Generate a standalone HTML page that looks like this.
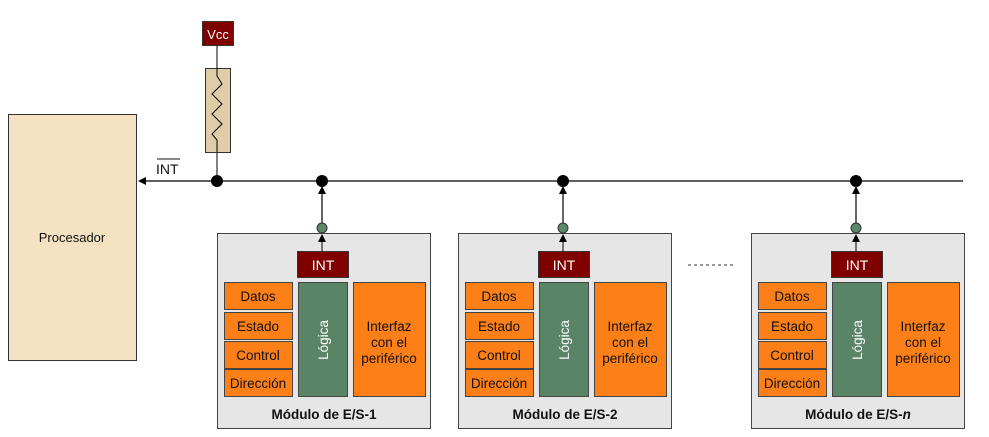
<!DOCTYPE html><html><head><style>body{margin:0;background:#fff}svg{display:block}text{font-family:"Liberation Sans",Arial,sans-serif}</style></head><body>
<svg width="989" height="437" viewBox="0 0 989 437" xmlns="http://www.w3.org/2000/svg">
<defs>
<g id="m">
<rect x="217.5" y="233.5" width="213" height="195" fill="#e6e6e6" stroke="#444"/>
<line x1="322" y1="233" x2="322" y2="192" stroke="#000" stroke-width="1.2"/>
<polygon points="322,186 318,194 326,194" fill="#000"/>
<polygon points="322,234 318,242 326,242" fill="#000"/>
<line x1="322" y1="242" x2="322" y2="251" stroke="#000"/>
<circle cx="322" cy="228" r="5" fill="#5a8a6a" stroke="#333"/>
<rect x="297.5" y="251.5" width="51" height="26" fill="#800000" stroke="#333"/>
<text x="323" y="270" font-size="14" fill="#fff" text-anchor="middle">INT</text>
<g fill="#fd7f17" stroke="#444">
<rect x="224.5" y="282.5" width="68" height="27"/>
<rect x="224.5" y="312.5" width="68" height="27"/>
<rect x="224.5" y="341.5" width="68" height="27"/>
<rect x="224.5" y="369.5" width="68" height="27"/>
<rect x="353.5" y="282.5" width="72" height="114"/>
</g>
<rect x="298.5" y="282.5" width="49" height="114" fill="#5a8466" stroke="#444"/>
<g font-size="13.5" fill="#111" text-anchor="middle">
<text x="258" y="301">Datos</text>
<text x="258" y="331">Estado</text>
<text x="258" y="360">Control</text>
<text x="258" y="388">Dirección</text>
<text x="389" y="331">Interfaz</text>
<text x="389" y="347">con el</text>
<text x="389" y="363">periférico</text>
</g>
<text transform="translate(328,340) rotate(-90)" font-size="13.5" fill="#fff" text-anchor="middle">Lógica</text>
</g>
</defs>
<rect x="8.5" y="114.5" width="128" height="246" fill="#f5e2c2" stroke="#333"/>
<text x="72" y="242" font-size="13" text-anchor="middle" fill="#111">Procesador</text>
<line x1="144" y1="181" x2="963" y2="181" stroke="#000" stroke-width="1.2"/>
<polygon points="138,181 146,177 146,185" fill="#000"/>
<text x="156" y="174" font-size="14" fill="#111">INT</text>
<line x1="157" y1="159" x2="180" y2="159" stroke="#111"/>
<line x1="217" y1="45" x2="217" y2="181" stroke="#000"/>
<rect x="202.5" y="21.5" width="31" height="24" fill="#800000" stroke="#333"/>
<text x="218" y="39" font-size="13" fill="#fff" text-anchor="middle">Vcc</text>
<rect x="205.5" y="68.5" width="25" height="84" fill="#dfcda8" stroke="#333"/>
<polyline points="217,68 217,76 222,84 212,94 222,104 212,114 222,124 212,134 217,140 217,152" fill="none" stroke="#000"/>
<g fill="#000"><circle cx="217" cy="181" r="6"/><circle cx="322" cy="181" r="6"/><circle cx="563" cy="181" r="6"/><circle cx="856" cy="181" r="6"/></g>
<use href="#m"/>
<use href="#m" x="241"/>
<use href="#m" x="534"/>
<g font-size="13.5" font-weight="bold" fill="#111" text-anchor="middle">
<text x="324" y="419">Módulo de E/S-1</text>
<text x="565" y="419">Módulo de E/S-2</text>
<text x="858" y="419">Módulo de E/S-<tspan font-style="italic">n</tspan></text>
</g>
<line x1="688" y1="265" x2="733" y2="265" stroke="#333" stroke-dasharray="3,3"/>
</svg>
</body></html>
